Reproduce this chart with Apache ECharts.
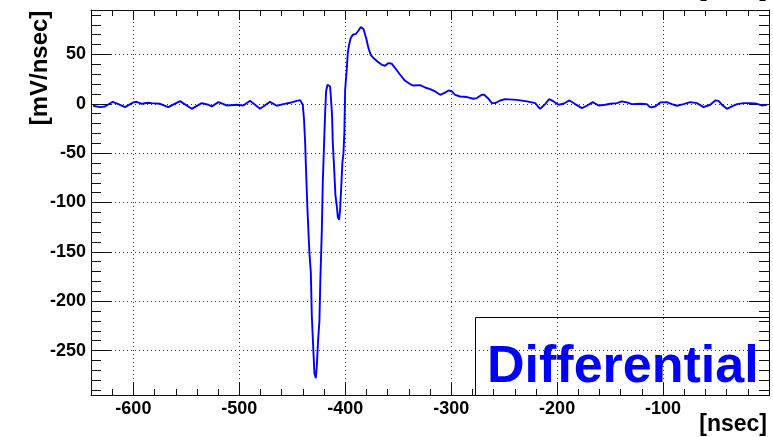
<!DOCTYPE html>
<html>
<head>
<meta charset="utf-8">
<script src="https://cdn.jsdelivr.net/npm/echarts@6/dist/echarts.min.js"></script>
<style>
html,body{margin:0;padding:0;background:#fff;}
#chart{width:773px;height:437px;}
</style>
</head>
<body>
<div id="chart"></div>
<script>
// ---- data ----
const timeNs = [
  -638, -631.5, -626.8, -619.5, -614.2, -607.9, -600, -596.8, -592.1, -585.9,
  -582.7, -574.8, -567, -556, -544.9, -535.5, -529.2, -526, -519.8, -511.9,
  -502.4, -496.2, -489.9, -480.4, -471, -464.7, -458.4, -452.1, -445.8, -442.6,
  -440.1, -438.9, -437.9, -437.0, -435.7, -433.9, -432.5, -431.6, -430.1, -429.1,
  -427.8, -426.9, -425.6, -424.4, -423.5, -422.1, -421.2, -420.0, -419.0, -418.1,
  -416.8, -415.3, -414.3, -413.6, -412.4, -411.8, -410.5, -409.3, -408.0, -407.0,
  -405.8, -404.9, -403.9, -402.7, -401.7, -400.8, -400.1, -398.5, -397.6, -396.4,
  -394.8, -392.9, -389.8, -387.6, -385.3, -382.8, -380.3, -378.1, -375.9, -373.4,
  -369.6, -365.5, -362.4, -359.2, -356.0, -352.9, -348.2, -343.5, -338.8, -335.6,
  -329.3, -324.6, -319.9, -315.2, -310.4, -306.7, -302.6, -299.4, -296.3, -291.6,
  -285.2, -279.0, -275.8, -271.1, -268.9, -264.8, -261.6, -258.5, -253.8, -249.1,
  -238.0, -228.6, -223.8, -220.7, -216.0, -211.3, -207.5, -203.4, -198.7, -194.0,
  -188.3, -183.0, -176.6, -172.0, -166.3, -161.0, -154.6, -149.9, -143.6, -138.9,
  -134.1, -129.4, -121.6, -115.3, -112.1, -107.4, -102.7, -96.4, -91.7, -86.9,
  -80.7, -74.3, -68.0, -61.8, -55.5, -50.7, -47.6, -44.4, -39.7, -35.0,
  -30.2, -24.0, -17.7, -16.1, -11.4, -6.7, -2.0
];
const signalMvPerNs = [
  -2.0, -3.4, -2.7, 2.0, -0.3, -3.4, 1.4, 2.0, 0, 1.0,
  0.7, 0, -3.4, 2.7, -5.1, 0.7, -1.0, -2.7, 1.7, -1.7,
  -1.0, -1.7, 3.0, -5.1, 2.0, -2.0, -0.3, 1.0, 3.0, 3.7,
  -1.0, -16.2, -38.2, -67.6, -106.4, -149.7, -170.9, -213.8, -250, -272.9,
  -277.9, -266.8, -239.1, -220.6, -178.3, -127.7, -79.7, -40.5, -9.4, 12.5,
  19.3, 21, 17.5, 7.4, -12.8, -38.2, -65.2, -92.2, -103.3, -114.8,
  -117.5, -107.4, -87.1, -59.5, -50, -28.1, 14.2, 36.2, 51.4, 59.8,
  66.6, 69.9, 70.9, 74, 77.7, 75.7, 66.6, 56.4, 49.6, 46.3,
  42.9, 39.5, 38.5, 41.2, 40.5, 36.2, 29.4, 23.3, 20, 18.5,
  18.9, 16.5, 14.9, 12.5, 9.1, 10.8, 13.5, 12.5, 9.1, 7.4,
  6.8, 5.1, 5.8, 9.1, 9.1, 5.1, 0.7, 0.7, 3.3, 4.7,
  4.0, 2.4, 1.4, 0.7, -5.1, -0.3, 4.7, 2.4, -1.0, 0,
  3.4, -0.3, -4.4, -2.0, 1.7, -1.7, -1.0, 0, 0.7, 2.4,
  1.4, -0.3, 0, -0.3, -3.7, -2.7, 1.4, 1.7, -0.3, -2.0,
  -0.3, 1.7, 0.7, -3.4, -1.0, 3.4, 3.0, -1.0, -5.1, -2.7,
  -0.3, 0.7, 0.7, 1.7, 0, -1.7, -1.0
];
const xMajorTicks = [-600, -500, -400, -300, -200, -100];
const yMajorTicks = [-250, -200, -150, -100, -50, 0, 50];
const yMinorTicks = [-290,-280,-270,-260,-240,-230,-220,-210,-190,-180,-170,-160,
  -140,-130,-120,-110,-90,-80,-70,-60,-40,-30,-20,-10,10,20,30,40,60,70,80,90];
const xRange = [-640, 0];
const yRange = [-295, 95];
const xTitle = '[nsec]';
const yTitle = '[mV/nsec]';
const legendText = 'Differential';

const seriesData = timeNs.map((t, i) => [t, signalMvPerNs[i]]);

const FONT = '"Liberation Sans", Arial, Helvetica, sans-serif';
const frameColor = '#111';
const gridLine = { show: true, lineStyle: { color: '#333', width: 1, type: [1, 3] } };
const labelStyle = { fontFamily: FONT, fontWeight: 'bold', fontSize: 18, color: '#000' };

function xAx(pos, opts) {
  return Object.assign({
    type: 'value', position: pos, min: xRange[0], max: xRange[1],
    axisLine: { show: false, onZero: false },
    axisLabel: { show: false },
    splitLine: { show: false },
    axisTick: { show: false }
  }, opts);
}
function yAx(pos, opts) {
  return Object.assign({
    type: 'value', position: pos, min: yRange[0], max: yRange[1],
    axisLine: { show: false, onZero: false },
    axisLabel: { show: false },
    splitLine: { show: false },
    axisTick: { show: false }
  }, opts);
}

const chart = echarts.init(document.getElementById('chart'), null, { renderer: 'canvas' });
chart.setOption({
  animation: false,
  backgroundColor: '#fff',
  grid: { left: 91, right: 4, top: 10, bottom: 42, containLabel: false },
  xAxis: [
    xAx('bottom', {
      axisLine: { show: true, onZero: false, lineStyle: { color: frameColor, width: 1 } },
      axisTick: { show: true, inside: true, length: 12, customValues: xMajorTicks, lineStyle: { color: frameColor } },
      axisLabel: Object.assign({ show: true, customValues: xMajorTicks, margin: 5 }, labelStyle),
      splitLine: gridLine
    }),
    xAx('bottom', {
      interval: 20,
      axisTick: { show: true, inside: true, length: 6, lineStyle: { color: frameColor } }
    }),
    xAx('top', {
      axisLine: { show: true, onZero: false, lineStyle: { color: frameColor, width: 1 } },
      axisTick: { show: true, inside: true, length: 10, customValues: xMajorTicks, lineStyle: { color: frameColor } }
    }),
    xAx('top', {
      interval: 20,
      axisTick: { show: true, inside: true, length: 6, lineStyle: { color: frameColor } }
    })
  ],
  yAxis: [
    yAx('left', {
      axisLine: { show: true, onZero: false, lineStyle: { color: frameColor, width: 1 } },
      axisTick: { show: true, inside: true, length: 20, customValues: yMajorTicks, lineStyle: { color: frameColor } },
      axisLabel: Object.assign({ show: true, customValues: yMajorTicks, margin: 5 }, labelStyle),
      splitLine: gridLine
    }),
    yAx('left', {
      axisTick: { show: true, inside: true, length: 10, customValues: yMinorTicks, lineStyle: { color: frameColor } }
    }),
    yAx('right', {
      axisLine: { show: true, onZero: false, lineStyle: { color: frameColor, width: 1 } },
      axisTick: { show: true, inside: true, length: 20, customValues: yMajorTicks, lineStyle: { color: frameColor } }
    }),
    yAx('right', {
      axisTick: { show: true, inside: true, length: 10, customValues: yMinorTicks, lineStyle: { color: frameColor } }
    })
  ],
  series: [{
    type: 'line',
    xAxisIndex: 0,
    yAxisIndex: 0,
    data: seriesData,
    showSymbol: false,
    symbol: 'none',
    smooth: false,
    lineStyle: { color: '#0000ff', width: 1.9 },
    z: 5
  }],
  graphic: [
    { type: 'rect', shape: { x: 475.5, y: 317.5, width: 294, height: 78 },
      style: { fill: 'none', stroke: '#000', lineWidth: 1 }, z: 10 },
    { type: 'text', x: 487, y: 368, z: 11,
      style: { text: legendText, fill: '#0000ff', font: 'bold 52px ' + FONT,
               textAlign: 'left', textVerticalAlign: 'middle' } },
    { type: 'text', x: 767, y: 425, z: 11,
      style: { text: xTitle, fill: '#000', font: 'bold 23px ' + FONT,
               textAlign: 'right', textVerticalAlign: 'middle' } },
    { type: 'text', x: 767, y: -10, z: 11,
      style: { text: xTitle, fill: '#000', font: 'bold 23px ' + FONT,
               textAlign: 'right', textVerticalAlign: 'middle' } },
    { type: 'text', x: 40, y: 68, rotation: Math.PI / 2, z: 11,
      style: { text: yTitle, fill: '#000', font: 'bold 24px ' + FONT,
               textAlign: 'center', textVerticalAlign: 'middle' } }
  ]
});
</script>
</body>
</html>
